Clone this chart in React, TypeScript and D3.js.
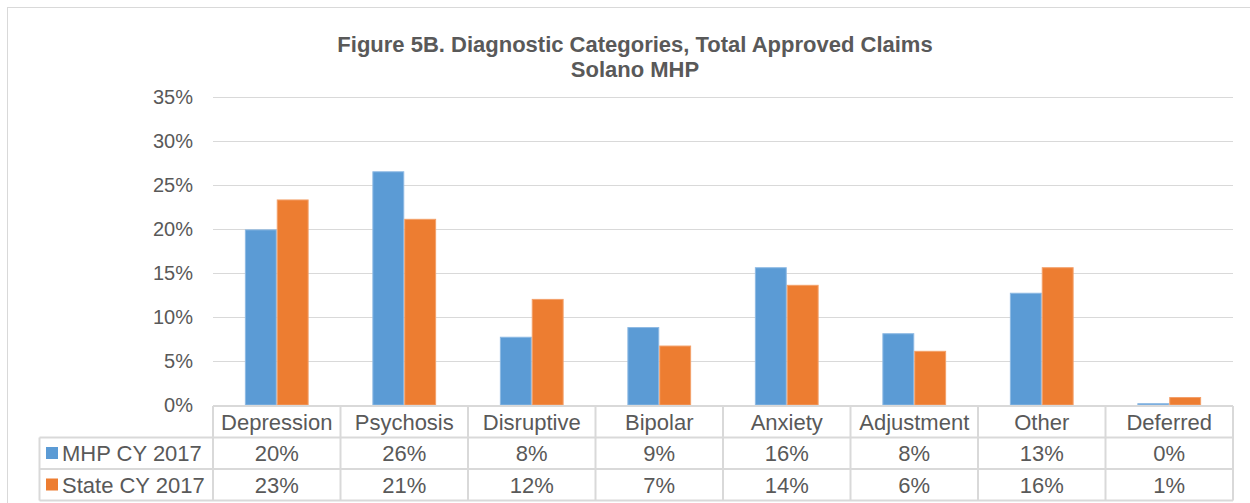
import React from "react";
import * as d3 from "d3";

const categories = ["Depression", "Psychosis", "Disruptive", "Bipolar", "Anxiety", "Adjustment", "Other", "Deferred"];
const seriesNames = ["MHP CY 2017", "State CY 2017"];
const mhpValues = [0.199, 0.265, 0.077, 0.088, 0.156, 0.081, 0.127, 0.0015];
const stateValues = [0.233, 0.211, 0.12, 0.067, 0.136, 0.061, 0.156, 0.0085];
const mhpLabels = ["20%", "26%", "8%", "9%", "16%", "8%", "13%", "0%"];
const stateLabels = ["23%", "21%", "12%", "7%", "14%", "6%", "16%", "1%"];
const yTicks = [0, 0.05, 0.1, 0.15, 0.2, 0.25, 0.3, 0.35];
const colors = ["#5B9BD5", "#ED7D31"];
const strokes = ["#8DB9E3", "#F3A06A"];

const W = 1250;
const H = 503;
const textColor = "#595959";
const gridColor = "#D9D9D9";
const font = "'Liberation Sans', Arial, sans-serif";

export default function App() {
  const left = 213;
  const right = 1233;
  const top = 97;
  const bottom = 405;
  const rowH = 31.5;
  const tableLeft = 39.5;

  const x0 = d3.scaleBand<string>().domain(categories).range([left, right]).padding(0);
  const x1 = d3.scaleBand<string>().domain(seriesNames).range([0, x0.bandwidth()]).paddingInner(0).paddingOuter(1);
  const y = d3.scaleLinear().domain([0, 0.35]).range([bottom, top]);

  const series = [mhpValues, stateValues];
  const labels = [mhpLabels, stateLabels];

  return (
    <svg width={W} height={H} style={{ position: "absolute", left: 0, top: 0 }} fontFamily={font}>
      <rect x={0} y={0} width={W} height={H} fill="#fff" />
      <rect x={7.5} y={7.5} width={W + 10} height={H + 10} fill="none" stroke={gridColor} />

      <text x={635} y={52} textAnchor="middle" fontSize={22} fontWeight="bold" fill={textColor}>
        Figure 5B. Diagnostic Categories, Total Approved Claims
      </text>
      <text x={635} y={77} textAnchor="middle" fontSize={22} fontWeight="bold" fill={textColor}>
        Solano MHP
      </text>

      {yTicks.map((t) => (
        <g key={t}>
          {t > 0 && <line x1={left} x2={right} y1={Math.round(y(t)) + 0.5} y2={Math.round(y(t)) + 0.5} stroke={gridColor} />}
          <text x={193} y={y(t) + 7} textAnchor="end" fontSize={20} fill={textColor}>
            {d3.format(".0%")(t)}
          </text>
        </g>
      ))}

      {categories.map((c, i) => (
        <g key={c} transform={`translate(${x0(c)},0)`}>
          {series.map((vals, s) => (
            <rect
              key={s}
              x={x1(seriesNames[s])! + 0.5}
              y={y(vals[i])}
              width={x1.bandwidth() - 1}
              height={bottom - y(vals[i])}
              fill={colors[s]}
              stroke={strokes[s]}
              strokeWidth={1}
            />
          ))}
        </g>
      ))}

      {/* data table */}
      <g stroke={gridColor} strokeWidth={2} fill="none">
        <line x1={left} x2={right} y1={406} y2={406} />
        <line x1={tableLeft} x2={right} y1={406 + rowH} y2={406 + rowH} />
        <line x1={tableLeft} x2={right} y1={406 + 2 * rowH} y2={406 + 2 * rowH} />
        <line x1={tableLeft} x2={right} y1={406 + 3 * rowH} y2={406 + 3 * rowH} />
        <line x1={tableLeft} x2={tableLeft} y1={406 + rowH} y2={406 + 3 * rowH} />
        {categories.map((c) => (
          <line key={c} x1={x0(c)} x2={x0(c)} y1={406} y2={406 + 3 * rowH} />
        ))}
        <line x1={right} x2={right} y1={406} y2={406 + 3 * rowH} />
      </g>

      {categories.map((c) => (
        <text key={c} x={x0(c)! + x0.bandwidth() / 2} y={406 + rowH - 8} textAnchor="middle" fontSize={22} fill={textColor}>
          {c}
        </text>
      ))}

      {seriesNames.map((name, s) => (
        <g key={name}>
          <rect x={46} y={406 + rowH * (s + 1) + 9.5} width={12} height={12} fill={colors[s]} />
          <text x={62} y={406 + rowH * (s + 2) - 8} fontSize={22} fill={textColor}>
            {name}
          </text>
          {categories.map((c, i) => (
            <text key={c} x={x0(c)! + x0.bandwidth() / 2} y={406 + rowH * (s + 2) - 8} textAnchor="middle" fontSize={22} fill={textColor}>
              {labels[s][i]}
            </text>
          ))}
        </g>
      ))}
    </svg>
  );
}
